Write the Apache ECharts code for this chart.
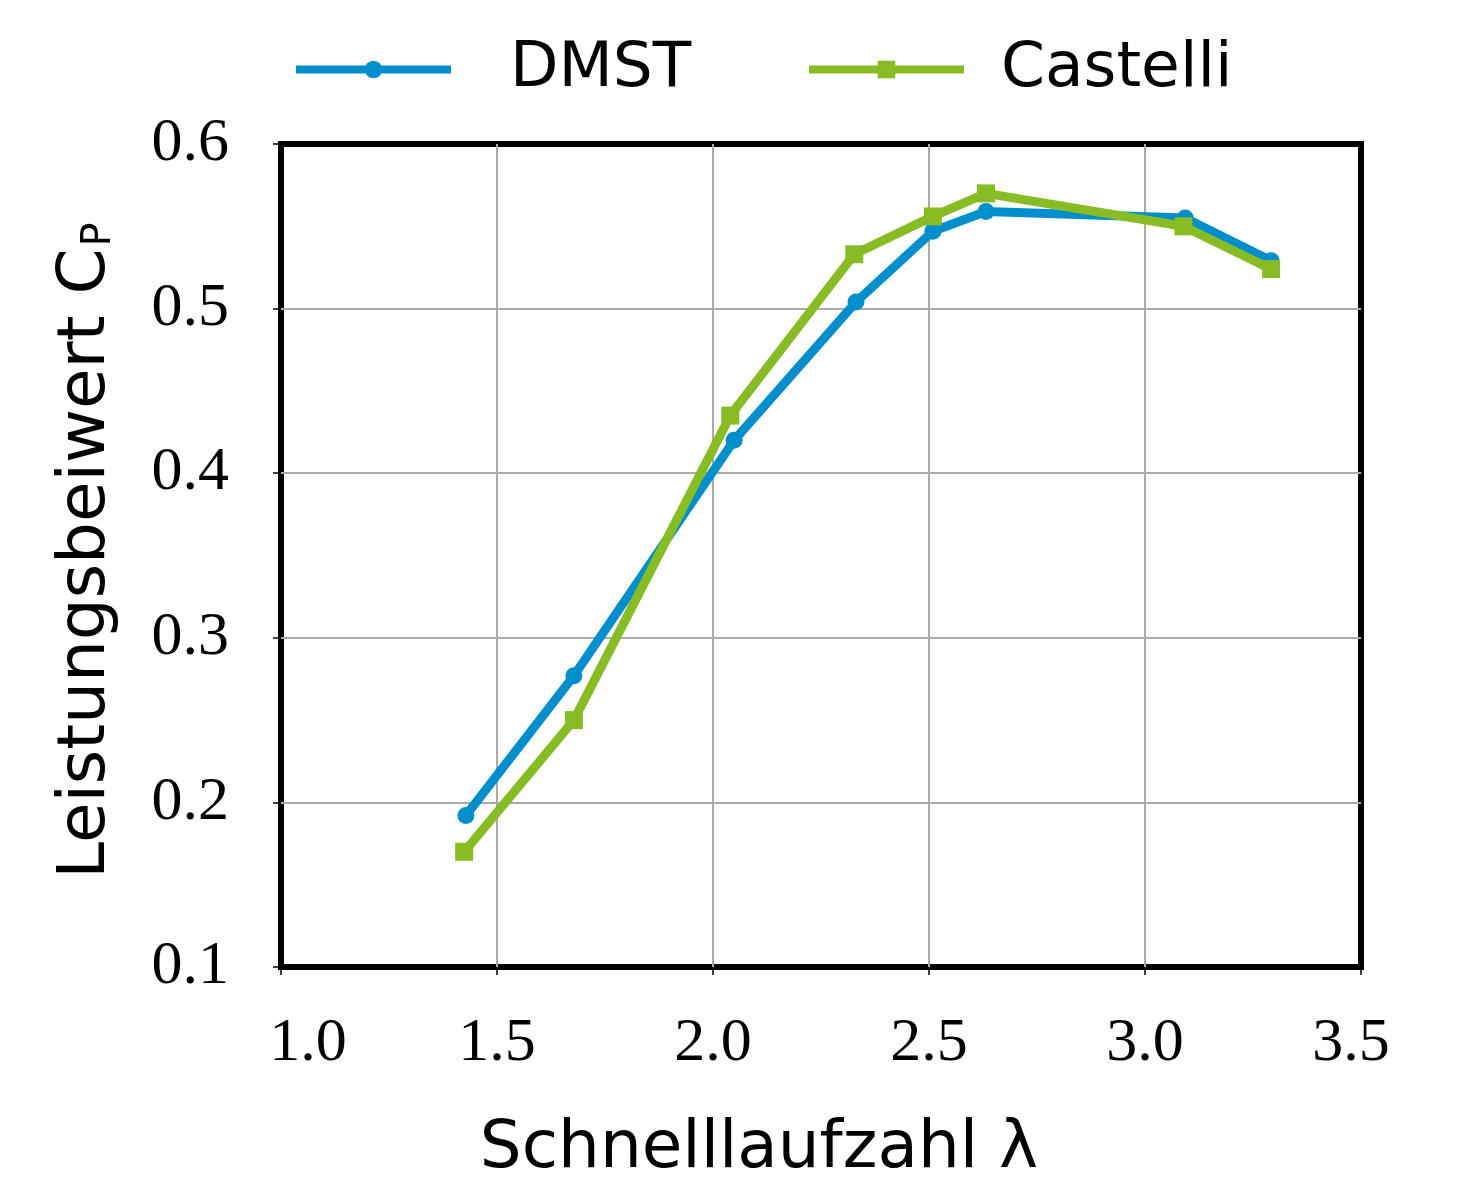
<!DOCTYPE html>
<html>
<head>
<meta charset="utf-8">
<script src="https://cdn.jsdelivr.net/npm/echarts@6/dist/echarts.min.js"></script>
<style>html,body{margin:0;padding:0;background:#fff;}#c{width:1469px;height:1188px;}</style>
</head>
<body>
<div id="c"></div>
<script>
const seriesNames = ['DMST', 'Castelli'];
const dmstLambda = [1.428, 1.678, 2.049, 2.331, 2.509, 2.632, 3.093, 3.292];
const dmstCp = [0.192, 0.277, 0.420, 0.504, 0.547, 0.559, 0.555, 0.529];
const castelliLambda = [1.424, 1.678, 2.040, 2.327, 2.509, 2.632, 3.089, 3.292];
const castelliCp = [0.170, 0.250, 0.435, 0.533, 0.556, 0.570, 0.550, 0.524];
const xTicks = [1.0, 1.5, 2.0, 2.5, 3.0, 3.5];
const yTicks = [0.1, 0.2, 0.3, 0.4, 0.5, 0.6];
const xTitle = 'Schnelllaufzahl λ';
const yTitle = 'Leistungsbeiwert C';
const ySub = 'P';

const zip = (a, b) => a.map((v, i) => [v, b[i]]);
const BLUE = '#008fcc', GREEN = '#87bc25';
const serif = 'Liberation Serif';
const sans = 'DejaVu Sans';

const chart = echarts.init(document.getElementById('c'));
chart.setOption({
  backgroundColor: '#fff',
  animation: false,
  legend: [
    { data: [seriesNames[0]], left: 287, top: 33, itemWidth: 155, itemHeight: 22,
      lineStyle: { width: 8 },
      textStyle: { fontFamily: sans, fontSize: 63, color: '#000', padding: [0, 0, 0, 54] } },
    { data: [seriesNames[1]], left: 800, top: 33, itemWidth: 155, itemHeight: 22,
      lineStyle: { width: 8 },
      textStyle: { fontFamily: sans, fontSize: 63, color: '#000', padding: [0, 0, 0, 32] } }
  ],
  grid: { left: 281, right: 108, top: 144, bottom: 220, show: true,
          borderColor: '#000', borderWidth: 6, backgroundColor: '#fff' },
  xAxis: {
    type: 'value', min: xTicks[0], max: xTicks[xTicks.length - 1], interval: 0.5,
    axisLine: { show: false },
    axisTick: { show: true, length: 8, lineStyle: { color: '#000', width: 1.5 } },
    splitLine: { show: true, showMinLine: false, showMaxLine: false, lineStyle: { color: '#aaaaaa', width: 2 } },
    axisLabel: {
      margin: 46, color: '#000', fontFamily: serif, fontSize: 62,
      formatter: v => {
        const s = v.toFixed(1);
        if (Math.abs(v - xTicks[0]) < 1e-9) return '{f|' + s + '}';
        if (Math.abs(v - xTicks[xTicks.length - 1]) < 1e-9) return '{l|' + s + '}';
        return s;
      },
      rich: {
        f: { fontFamily: serif, fontSize: 62, color: '#000', padding: [0, 0, 0, 54] },
        l: { fontFamily: serif, fontSize: 62, color: '#000', padding: [0, 20, 0, 0] }
      }
    },
    name: xTitle, nameLocation: 'middle', nameGap: 150,
    nameTextStyle: { fontFamily: sans, fontSize: 66, color: '#000', padding: [0, 124, 0, 0] }
  },
  yAxis: {
    type: 'value', min: yTicks[0], max: yTicks[yTicks.length - 1], interval: 0.1,
    axisLine: { show: false },
    axisTick: { show: true, length: 8, lineStyle: { color: '#000', width: 1.5 } },
    splitLine: { show: true, showMinLine: false, showMaxLine: false, lineStyle: { color: '#aaaaaa', width: 2 } },
    axisLabel: { margin: 52, color: '#000', fontFamily: serif, fontSize: 62,
      formatter: v => v.toFixed(1) },
    name: yTitle + '{s|' + ySub + '}', nameLocation: 'middle', nameGap: 161,
    nameTextStyle: { fontFamily: sans, fontSize: 66, color: '#000', padding: [0, 0, 0, 10],
      rich: { s: { fontFamily: sans, fontSize: 40, color: '#000', verticalAlign: 'bottom', padding: [0, 0, 0, 2] } } }
  },
  series: [
    { name: seriesNames[0], type: 'line', data: zip(dmstLambda, dmstCp),
      color: BLUE, symbol: 'circle', symbolSize: 17,
      lineStyle: { width: 9, color: BLUE }, itemStyle: { color: BLUE }, z: 3 },
    { name: seriesNames[1], type: 'line', data: zip(castelliLambda, castelliCp),
      color: GREEN, symbol: 'rect', symbolSize: 18,
      lineStyle: { width: 9, color: GREEN }, itemStyle: { color: GREEN }, z: 4 }
  ]
});
</script>
</body>
</html>
